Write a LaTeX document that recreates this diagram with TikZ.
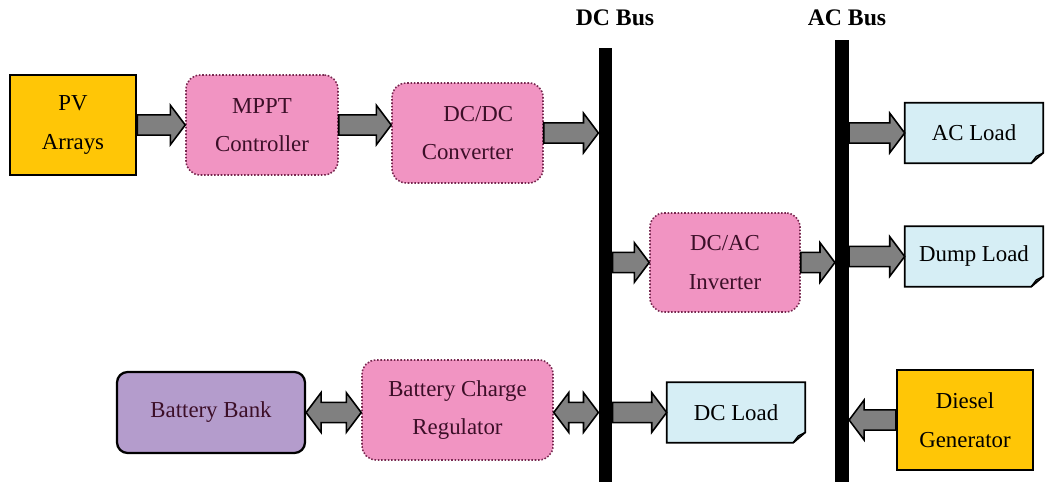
\documentclass[tikz,border=0pt]{standalone}
\usepackage{fontspec}
\setmainfont{Liberation Serif}
\usepackage{tikz}
\usetikzlibrary{calc,backgrounds}

\definecolor{pvyellow}{RGB}{255,198,6}
\definecolor{ctrlpink}{RGB}{241,148,194}
\definecolor{ctrlborder}{RGB}{120,40,80}
\definecolor{battpurple}{RGB}{180,156,204}
\definecolor{loadblue}{RGB}{214,238,245}
\definecolor{arrowgray}{RGB}{128,128,128}
\definecolor{ctrltext}{RGB}{60,15,40}

\tikzset{
  txt/.style={font=\rmfamily\fontsize{13}{22}\selectfont, align=center, inner sep=0pt},
  source/.style={txt, draw, line width=1.4pt, fill=pvyellow},
  ctrl/.style={txt, draw=ctrlborder, densely dotted, line width=0.9pt, fill=ctrlpink, rounded corners=8pt, text=ctrltext},
  battbox/.style={txt, draw, line width=1.3pt, fill=battpurple, rounded corners=6pt, text=ctrltext},
  load/.style={txt, minimum width=2.76cm, minimum height=1.2cm},
  bus/.style={fill=black, inner sep=0pt, minimum width=0.27cm},
  buslabel/.style={font=\rmfamily\fontsize{13.5}{15}\selectfont\bfseries},
  blockarr/.style={draw, fill=arrowgray, line width=0.9pt, line join=miter}
}

% block arrow, tip at #2
\newcommand{\blockarrow}[2]{%
  \draw[blockarr] let \p1=(#1), \p2=(#2), \p3=($(#2)!8.5pt!(#1)$) in
    (\x1,\y1+5.8pt) -- (\x3,\y1+5.8pt) -- (\x3,\y1+11.3pt) -- (\x2,\y1)
    -- (\x3,\y1-11.3pt) -- (\x3,\y1-5.8pt) -- (\x1,\y1-5.8pt) -- cycle;}
% block arrow with tips at both ends
\newcommand{\dblarrow}[2]{%
  \draw[blockarr] let \p1=(#1), \p2=(#2), \p3=($(#2)!8.5pt!(#1)$), \p4=($(#1)!8.5pt!(#2)$) in
    (\x1,\y1) -- (\x4,\y1+11.3pt) -- (\x4,\y1+5.8pt) -- (\x3,\y1+5.8pt) -- (\x3,\y1+11.3pt) -- (\x2,\y1)
    -- (\x3,\y1-11.3pt) -- (\x3,\y1-5.8pt) -- (\x4,\y1-5.8pt) -- (\x4,\y1-11.3pt) -- cycle;}
% folded-corner outline of a load
\newcommand{\noteoutline}[1]{%
  \begin{scope}[on background layer]
    \draw[fill=loadblue, line width=1pt] (#1.north west) -- (#1.north east) -- ([yshift=6pt]#1.south east)
      -- ([xshift=-7pt]#1.south east) -- (#1.south west) -- cycle;
    \draw[line width=0.7pt] ([yshift=6pt]#1.south east) -- ([xshift=-4pt,yshift=4pt]#1.south east)
      -- ([xshift=-7pt]#1.south east);
  \end{scope}}

\begin{document}
\begin{tikzpicture}[x=0.02cm, y=-0.02cm]
    \useasboundingbox (0,0) rectangle (1048,482);

    % Buses
    \node[bus, minimum height=8.68cm] (dcbus) at (605.5,265) {};
    \node[bus, minimum height=8.84cm] (acbus) at (842,261) {};
    \node[buslabel] (dclabel) at (615,18) {DC Bus};
    \node[buslabel] (aclabel) at (847,18) {AC Bus};

    % Blocks
    \node[source, minimum width=2.52cm, minimum height=2cm] (pv) at (73,125) {PV\\Arrays};
    \node[ctrl, minimum width=3.04cm, minimum height=2cm] (mppt) at (262,125) {MPPT\\Controller};
    \node[ctrl, minimum width=3.02cm, minimum height=2cm, align=right] (dcdc) at (467.5,133) {DC/DC\\Converter};
    \node[ctrl, minimum width=3cm, minimum height=1.98cm] (dcac) at (725,262.5) {DC/AC\\Inverter};
    \node[battbox, minimum width=3.76cm, minimum height=1.62cm] (batt) at (211,412.5) {Battery Bank};
    \node[ctrl, minimum width=3.82cm, minimum height=2cm] (bcr) at (457.5,410) {Battery Charge\\Regulator};
    \node[source, minimum width=2.72cm, minimum height=2cm] (diesel) at (965,420) {Diesel\\Generator};

    % Loads
    \node[load] (acload) at (974,133) {AC Load};
    \node[load] (dumpload) at (974,256.5) {Dump Load};
    \node[load] (dcload) at (736,412.5) {DC Load};
    \noteoutline{acload}
    \noteoutline{dumpload}
    \noteoutline{dcload}

    % Arrows
    \blockarrow{pv.east}{mppt.west}
    \blockarrow{mppt.east}{dcdc.west |- mppt.east}
    \blockarrow{dcdc.east}{dcbus.west |- dcdc.east}
    \blockarrow{dcbus.east |- dcac.west}{dcac.west}
    \blockarrow{dcac.east}{acbus.west |- dcac.east}
    \blockarrow{acbus.east |- acload.west}{acload.west}
    \blockarrow{acbus.east |- dumpload.west}{dumpload.west}
    \blockarrow{diesel.west}{acbus.east |- diesel.west}
    \dblarrow{batt.east}{bcr.west |- batt.east}
    \dblarrow{bcr.east |- dcload.west}{dcbus.west |- dcload.west}
    \blockarrow{dcbus.east |- dcload.west}{dcload.west}
\end{tikzpicture}
\end{document}
